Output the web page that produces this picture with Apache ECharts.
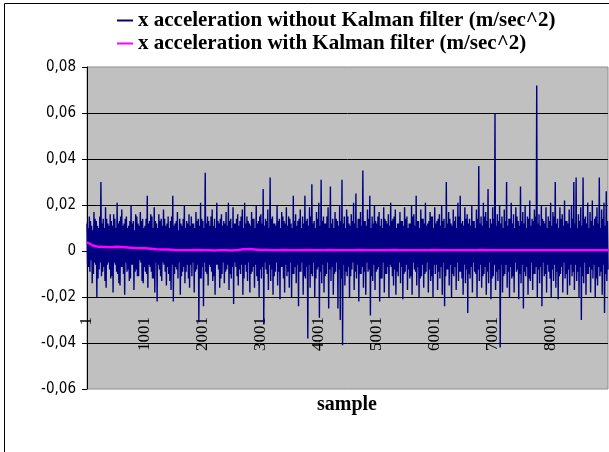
<!DOCTYPE html>
<html><head><meta charset="utf-8">
<script src="https://cdn.jsdelivr.net/npm/echarts@6/dist/echarts.min.js"></script>
<style>html,body{margin:0;padding:0;background:#fff}#c{width:609px;height:452px}</style>
</head><body><div id="c"></div><script>
// Series names (legend)
const seriesNames = [
  'x acceleration without Kalman filter (m/sec^2)',
  'x acceleration with Kalman filter (m/sec^2)'
];
// Raw acceleration, every 10 samples, in 0.001 m/sec^2
const rawStep = 10;
const rawValues = [
12,-6,10,-7,15,-9,13,-4,11,-14,9,-10,17,-5,14,-6,13,-20,11,-12,10,-8,15,-5,30,-11,12,-9,14,-7,10,-13,19,-16,14,-6,12,-5,11,-8,16,-12,13,-11,11,-18,16,-5,14,-6,10,-9,21,-10,12,-14,13,-15,15,-7,
18,-7,11,-10,12,-19,14,-5,15,-9,10,-8,11,-13,13,-12,20,-6,12,-6,13,-17,9,-9,16,-8,15,-11,12,-11,11,-4,17,-5,13,-13,14,-14,10,-7,11,-9,14,-10,24,-16,12,-6,13,-7,16,-9,15,-12,10,-12,19,-18,13,-5,
12,-22,10,-6,16,-8,13,-11,14,-13,11,-5,18,-6,14,-9,11,-15,12,-7,15,-10,10,-13,13,-17,15,-6,24,-22,11,-10,12,-7,13,-8,17,-12,9,-5,14,-19,12,-11,11,-9,14,-7,20,-14,10,-9,13,-6,12,-12,16,-16,11,-6,
15,-11,12,-5,12,-18,10,-9,17,-8,13,-6,14,-31,11,-12,21,-12,14,-7,13,-24,10,-5,34,-9,12,-10,15,-15,13,-6,11,-7,15,-9,18,-13,11,-11,14,-19,10,-6,21,-6,13,-8,12,-16,14,-12,16,-10,11,-5,13,-14,12,-9,
17,-8,11,-6,21,-17,13,-10,14,-12,10,-7,19,-23,12,-5,12,-7,14,-11,16,-15,11,-8,13,-10,15,-6,18,-19,10,-12,21,-6,12,-9,15,-13,13,-5,12,-18,11,-10,17,-9,14,-7,14,-16,10,-6,20,-11,12,-13,13,-20,15,-8,
16,-12,12,-7,27,-32,11,-5,14,-8,13,-10,18,-17,10,-6,32,-13,14,-8,15,-19,12,-11,12,-9,11,-5,20,-15,13,-9,14,-21,10,-7,17,-7,15,-12,13,-18,12,-6,19,-11,11,-9,15,-16,14,-5,12,-20,10,-10,24,-10,13,-7,
16,-14,11,-6,13,-24,14,-9,18,-9,10,-5,15,-19,12,-11,24,-12,13,-7,14,-38,11,-6,19,-16,15,-10,29,-11,12,-5,13,-20,10,-12,17,-8,14,-7,21,-29,11,-9,31,-14,13,-6,15,-18,12,-11,12,-10,15,-5,19,-25,10,-8,
28,-13,12,-7,14,-19,10,-10,17,-9,14,-5,13,-25,11,-8,20,-30,13,-12,31,-41,12,-6,15,-15,10,-9,18,-11,15,-7,12,-20,11,-11,16,-8,13,-5,21,-17,12,-9,25,-12,10,-6,14,-22,14,-10,17,-10,11,-7,35,-16,13,-9,
13,-19,11,-5,18,-9,14,-8,24,-28,10,-11,15,-13,12,-6,20,-17,13,-9,12,-8,15,-7,17,-22,11,-12,14,-12,10,-5,19,-18,14,-10,13,-10,12,-7,16,-20,11,-6,21,-7,13,-11,14,-15,15,-8,18,-19,10,-9,12,-11,12,-5,
17,-14,13,-7,13,-21,11,-10,19,-9,14,-6,15,-17,10,-8,12,-12,12,-11,20,-19,15,-5,16,-8,11,-9,24,-15,13,-7,13,-20,10,-12,18,-11,14,-6,14,-16,12,-10,21,-9,11,-5,12,-18,13,-8,17,-13,15,-11,15,-20,10,-6,
19,-10,12,-6,13,-17,14,-9,16,-12,11,-7,20,-19,13,-5,14,-24,10,-11,30,-8,12,-8,17,-15,14,-6,12,-20,11,-10,18,-11,13,-7,15,-17,10,-5,21,-13,15,-9,24,-9,12,-12,13,-19,11,-6,19,-14,14,-8,16,-27,12,-10,
14,-12,11,-7,20,-18,13,-5,13,-9,10,-10,18,-20,14,-8,37,-13,12,-6,15,-16,11,-11,21,-10,15,-7,17,-19,13,-9,27,-14,10,-5,14,-21,12,-12,19,-11,14,-6,60,-17,11,-9,16,-13,13,-8,20,-42,12,-6,15,-18,10,-11,
18,-10,13,-6,30,-16,11,-9,14,-20,14,-7,21,-12,12,-11,16,-18,10,-5,19,-9,15,-8,13,-21,11,-10,28,-14,13,-6,17,-25,12,-9,20,-11,10,-7,15,-19,14,-12,22,-13,11,-5,14,-17,13,-10,18,-10,15,-7,72,-20,12,-8,
16,-14,11,-7,20,-24,14,-5,13,-11,12,-10,19,-18,10,-6,15,-9,13,-12,21,-20,11,-8,17,-13,15,-6,30,-16,12,-9,14,-21,10,-11,19,-10,14,-7,16,-18,11,-5,22,-12,13,-10,13,-19,12,-8,18,-15,10,-6,20,-11,14,-9,
30,-17,12,-6,32,-13,10,-9,16,-20,13,-7,19,-30,11,-11,32,-14,14,-5,15,-19,12,-10,21,-10,10,-7,17,-18,13,-8,22,-12,11,-6,14,-20,15,-12,19,-15,12,-7,32,-11,10,-9,18,-19,14,-6,21,-27,11,-10,26,-13,13,-8
];
const kalmanStep = 100;
const kalmanValues = [
3.8,2.4,1.8,1.7,1.6,1.8,1.7,1.5,1.3,1.2,1.2,1.0,0.8,0.7,0.6,0.4,0.3,0.3,0.3,0.4,
0.3,0.3,0.2,0.3,0.3,0.2,0.4,0.8,0.9,0.7,0.4,0.4,0.3,0.3,0.4,0.3,0.3,0.3,0.4,0.3,
0.3,0.3,0.4,0.3,0.3,0.3,0.3,0.4,0.3,0.3,0.3,0.3,0.3,0.4,0.3,0.3,0.3,0.3,0.3,0.3,
0.4,0.3,0.3,0.3,0.3,0.3,0.3,0.3,0.4,0.3,0.3,0.3,0.3,0.3,0.3,0.3,0.3,0.3,0.3,0.3,
0.3,0.3,0.3,0.3,0.3,0.3,0.3,0.3,0.3,0.3,0.3
];
const xAxisName = 'sample';

const chart = echarts.init(document.getElementById('c'), null, {renderer: 'canvas'});
chart.setOption({
  animation: false,
  backgroundColor: '#ffffff',
  legend: {
    orient: 'vertical', left: 112, top: 5,
    icon: 'rect', itemWidth: 16, itemHeight: 2, itemGap: 2,
    textStyle: {fontFamily: 'Liberation Serif', fontWeight: 'bold', fontSize: 21, color: '#000', lineHeight: 21},
    data: seriesNames,
    selectedMode: false
  },
  grid: {
    left: 87, top: 67, right: 1, bottom: 63,
    show: true, backgroundColor: '#C0C0C0', borderColor: '#8c8c8c', borderWidth: 1
  },
  xAxis: {
    type: 'value', min: 0, max: 8990, interval: 1000,
    position: 'bottom', offset: -72,
    axisLine: {show: false}, axisTick: {show: false}, splitLine: {show: false},
    axisLabel: {
      rotate: 90, margin: 0, showMaxLabel: false,
      fontFamily: 'Liberation Serif', fontSize: 17, color: '#000',
      formatter: v => String(v + 1)
    }
  },
  yAxis: {
    type: 'value', min: -60, max: 80, interval: 20,
    axisLine: {show: true, lineStyle: {color: '#000', width: 1}},
    axisTick: {show: true, length: 5, lineStyle: {color: '#000'}},
    splitLine: {show: true, showMinLine: false, showMaxLine: false, lineStyle: {color: '#000', width: 1}},
    axisLabel: {
      margin: 11, color: '#000', fontSize: 15,
      fontFamily: "'Liberation Sans Narrow', 'Arial Narrow', 'DejaVu Sans Condensed', sans-serif",
      formatter: v => v === 0 ? '0' : (v / 1000).toFixed(2).replace('.', ',')
    }
  },
  graphic: [
    {type: 'rect', silent: true, shape: {x: 4.5, y: 3.5, width: 700, height: 470},
     style: {fill: 'none', stroke: '#000', lineWidth: 1}},
    {type: 'text', silent: true,
     style: {text: xAxisName, x: 347, y: 405, textAlign: 'center', textVerticalAlign: 'middle',
             font: 'bold 20px "Liberation Serif"', fill: '#000'}}
  ],
  series: [
    {
      name: seriesNames[0], type: 'line', symbol: 'none', silent: true,
      lineStyle: {color: '#000080', width: 1.4}, itemStyle: {color: '#000080'},
      data: rawValues.map((v, i) => [i * rawStep, v])
    },
    {
      name: seriesNames[1], type: 'line', symbol: 'none', silent: true,
      lineStyle: {color: '#FF00FF', width: 2.5}, itemStyle: {color: '#FF00FF'},
      data: kalmanValues.map((v, i) => [i * kalmanStep, v])
    }
  ]
});
</script></body></html>
